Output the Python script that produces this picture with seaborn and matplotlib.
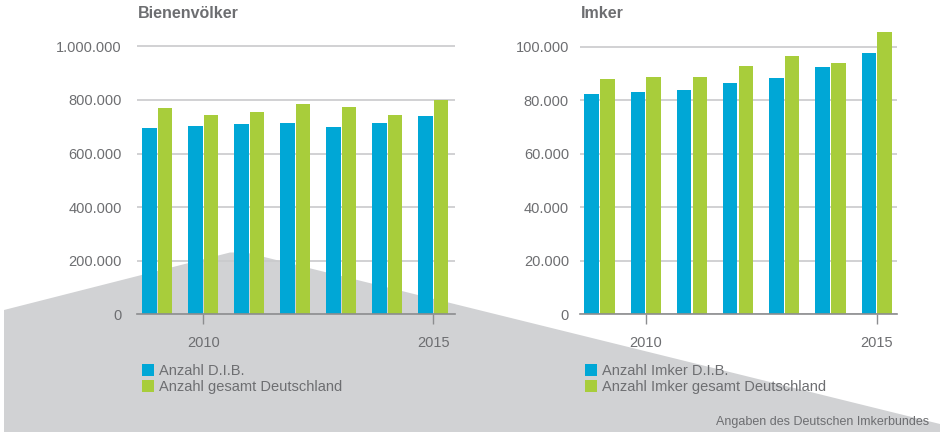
import numpy as np
import pandas as pd
import matplotlib
matplotlib.use("Agg")
import matplotlib.pyplot as plt
from matplotlib.patches import Polygon
import seaborn as sns

# ---- Daten ----
jahre = ['2009', '2010', '2011', '2012', '2013', '2014', '2015']
voelker_dib = [694000, 703000, 709000, 713000, 699000, 714000, 741000]
voelker_gesamt = [770000, 744000, 756000, 784000, 773000, 744000, 800000]
imker_dib = [82400, 83000, 83900, 86500, 88400, 92300, 97500]
imker_gesamt = [87800, 88600, 88700, 92900, 96600, 93800, 105500]

lbl_v = ['Anzahl D.I.B.', 'Anzahl gesamt Deutschland']
lbl_i = ['Anzahl Imker D.I.B.', 'Anzahl Imker gesamt Deutschland']

df_v = pd.DataFrame({'Jahr': jahre * 2,
                     'Wert': voelker_dib + voelker_gesamt,
                     'Serie': [lbl_v[0]] * 7 + [lbl_v[1]] * 7})
df_i = pd.DataFrame({'Jahr': jahre * 2,
                     'Wert': imker_dib + imker_gesamt,
                     'Serie': [lbl_i[0]] * 7 + [lbl_i[1]] * 7})

BLAU = '#00a7d6'
GRUEN = '#a8cd3b'
TEXT = '#6d6e71'
GRID = '#c9cacc'
HINTERGRUND = '#d1d2d4'

sns.set_style('white')
plt.rcParams['font.family'] = ['Liberation Sans', 'DejaVu Sans']

W, H = 940, 434
fig = plt.figure(figsize=(W / 100, H / 100), dpi=100)

# grauer Keil im Hintergrund (Pixelkoordinaten)
bg = fig.add_axes([0, 0, 1, 1], zorder=0)
bg.set_xlim(0, W)
bg.set_ylim(H, 0)
bg.axis('off')
bg.add_patch(Polygon([(4, 310), (230, 252.5), (246, 252.5), (940, 424),
                      (940, 432), (4, 432)], closed=True,
                     facecolor=HINTERGRUND, edgecolor='none'))


def fmt_de(v, pos=None):
    return f'{int(v):,}'.replace(',', '.')


def chart(rect, data, labels, ymax, ticks, xlim, title, ypad, leg_x):
    ax = fig.add_axes(rect, zorder=1)
    ax.patch.set_alpha(0)
    sns.barplot(data=data, x='Jahr', y='Wert', hue='Serie',
                palette=[BLAU, GRUEN], width=0.68, gap=0.08,
                saturation=1, linewidth=0, ax=ax, zorder=3)
    ax.set_ylim(0, ymax)
    ax.set_xlim(*xlim)
    ax.set_yticks(ticks)
    ax.yaxis.set_major_formatter(matplotlib.ticker.FuncFormatter(fmt_de))
    ax.set_xticks([1, 6], ['2010', '2015'])
    ax.grid(axis='y', color=GRID, lw=1.2, zorder=0)
    ax.set_axisbelow(True)
    for s in ['top', 'right', 'left']:
        ax.spines[s].set_visible(False)
    ax.spines['bottom'].set_color('#8c8d8f')
    ax.spines['bottom'].set_linewidth(1.2)
    ax.spines['bottom'].set_zorder(4)
    ax.tick_params(axis='y', left=False, length=0, pad=ypad,
                   labelsize=10.5, labelcolor=TEXT)
    ax.tick_params(axis='x', bottom=True, direction='out', length=7, width=1,
                   color='#8c8d8f', pad=8.5, labelsize=10.5, labelcolor=TEXT)
    ax.set_xlabel('')
    ax.set_ylabel('')
    handles, _ = ax.get_legend_handles_labels()
    ax.legend(handles, labels, loc='upper left',
              bbox_to_anchor=(leg_x / W, 1 - 364 / H),
              bbox_transform=fig.transFigure, frameon=False,
              fontsize=10.5, labelcolor=TEXT, handlelength=0.85,
              handleheight=0.85, handletextpad=0.35, labelspacing=0.15,
              borderpad=0, borderaxespad=0)
    fig.text(rect[0] + 1 / W, 1 - 14 / H, title, ha='left', va='center',
             fontsize=11.5, fontweight='bold', color=TEXT)
    return ax


bottom = 1 - 314.3 / H
height = (314.3 - 30) / H
chart([137 / W, bottom, 318 / W, height], df_v, lbl_v, 1061000,
      [0, 200000, 400000, 600000, 800000, 1000000], (-0.44, 6.47),
      'Bienenvölker', 11, 141.5)
chart([580 / W, bottom, 316.7 / W, height], df_i, lbl_i, 106200,
      [0, 20000, 40000, 60000, 80000, 100000], (-0.42, 6.43),
      'Imker', 8, 585)

fig.text(929 / W, 1 - 421.7 / H, 'Angaben des Deutschen Imkerbundes',
         ha='right', va='center', fontsize=9, color=TEXT)

fig.savefig('out.png', dpi=100, facecolor='white')
